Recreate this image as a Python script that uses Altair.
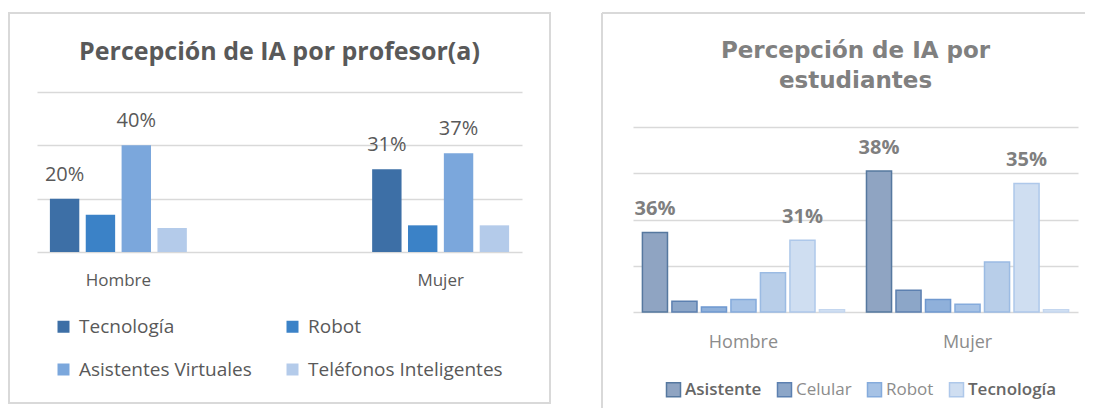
import altair as alt
import pandas as pd

generos = ["Hombre", "Mujer"]

# ---- Panel 1: profesor(a) ----
series_prof = ["Tecnología", "Robot", "Asistentes Virtuales", "Teléfonos Inteligentes"]
prof_hombre = [20, 14, 40, 9]
prof_mujer = [31, 10, 37, 10]
prof_etq_hombre = ["20%", "", "40%", ""]
prof_etq_mujer = ["31%", "", "37%", ""]
prof_colores = ["#3d6fa6", "#3b82c7", "#7ba7dc", "#b4cbea"]
prof_grid = [0, 20, 40, 60]

# ---- Panel 2: estudiantes ----
series_est = ["Asistente", "Celular", "Serie 3", "Robot", "Serie 5", "Tecnología", "Serie 7"]
est_hombre = [17.2, 2.3, 1.1, 2.7, 8.5, 15.5, 0.5]
est_mujer = [30.5, 4.7, 2.7, 1.7, 10.8, 27.8, 0.5]
est_etq_hombre = ["36%", "", "", "", "", "31%", ""]
est_etq_mujer = ["38%", "", "", "", "", "35%", ""]
est_relleno = ["#8fa4c2", "#8ca6c8", "#8fb0da", "#a6c2e5", "#b8cee9", "#cfdef1", "#dde8f5"]
est_borde = ["#56789f", "#5c80b0", "#6f98cf", "#85abdc", "#9bbbe3", "#aec8ea", "#c3d6ef"]
est_leyenda = ["Asistente", "Celular", "Robot", "Tecnología"]
est_grid = [0, 10, 20, 30, 40]

rows = []
for g, vals, etqs in [("Hombre", prof_hombre, prof_etq_hombre), ("Mujer", prof_mujer, prof_etq_mujer)]:
    for s, v, e in zip(series_prof, vals, etqs):
        rows.append({"genero": g, "serie": s, "valor": v, "etiqueta": e})
df_prof = pd.DataFrame(rows)

rows = []
for g, vals, etqs in [("Hombre", est_hombre, est_etq_hombre), ("Mujer", est_mujer, est_etq_mujer)]:
    for s, v, e in zip(series_est, vals, etqs):
        rows.append({"genero": g, "serie": s, "valor": v, "etiqueta": e})
df_est = pd.DataFrame(rows)

marco_df = pd.DataFrame({"marco": [1]})
GRID = "#d9d9d9"

# ---------- left chart ----------
x1 = alt.X("genero:N", sort=generos,
           scale=alt.Scale(paddingInner=0.575, paddingOuter=0.04),
           axis=alt.Axis(title=None, labelAngle=0, ticks=False, tickSize=0, domain=False,
                         labelPadding=20, labelFontSize=17, labelFont="Open Sans",
                         labelColor="#595959", labelBaseline="top"))
xo1 = alt.XOffset("serie:N", sort=series_prof, scale=alt.Scale(paddingInner=0.18, paddingOuter=0))
y1 = alt.Y("valor:Q", scale=alt.Scale(domain=[0, 60]),
           axis=alt.Axis(values=prof_grid, grid=True, labels=False, ticks=False, domain=False,
                         title=None, gridColor=GRID, gridWidth=1.5))

marco1 = alt.Chart(marco_df).mark_rect(fillOpacity=0, stroke=GRID, strokeWidth=2).encode(
    x=alt.value(-28), x2=alt.value(513), y=alt.value(-79), y2=alt.value(311))

barras1 = alt.Chart(df_prof).mark_bar().encode(
    x=x1, xOffset=xo1, y=y1,
    color=alt.Color("serie:N", sort=series_prof,
                    scale=alt.Scale(domain=series_prof, range=prof_colores),
                    legend=alt.Legend(orient="none", legendX=17, legendY=225, columns=2,
                                      direction="horizontal", title=None, symbolType="square",
                                      symbolSize=144, labelFontSize=19, labelFont="Open Sans",
                                      labelColor="#595959", labelOffset=6, columnPadding=31,
                                      rowPadding=23, symbolStrokeWidth=0, labelLimit=400)))

texto1 = alt.Chart(df_prof).mark_text(dy=-24, fontSize=20, font="Open Sans", color="#595959",
                                       baseline="middle").encode(
    x=x1, xOffset=xo1, y=y1, text="etiqueta:N")

izq = alt.layer(marco1, barras1, texto1).properties(
    width=485, height=160,
    title=alt.TitleParams("Percepción de IA por profesor(a)", font="Open Sans", fontSize=25,
                          fontWeight="bold", color="#595959", anchor="middle", offset=-73,
                          baseline="alphabetic"))

# ---------- right chart ----------
x2 = alt.X("genero:N", sort=generos,
           scale=alt.Scale(paddingInner=0.098, paddingOuter=0.042),
           axis=alt.Axis(title=None, labelAngle=0, ticks=False, tickSize=0, domain=False,
                         labelPadding=21, labelFontSize=18, labelFont="Open Sans",
                         labelColor="#8c8c8c", labelBaseline="top"))
xo2 = alt.XOffset("serie:N", sort=series_est, scale=alt.Scale(paddingInner=0.15, paddingOuter=0))
y2 = alt.Y("valor:Q", scale=alt.Scale(domain=[0, 47.57]),
           axis=alt.Axis(values=est_grid, grid=True, labels=False, ticks=False, domain=False,
                         title=None, gridColor=GRID, gridWidth=1.5))

leg2 = alt.Legend(orient="none", legendX=32, legendY=289, columns=4, direction="horizontal",
                  title=None, values=est_leyenda, symbolType="square", symbolSize=196,
                  symbolStrokeWidth=1.5, labelFontSize=17, labelFont="Open Sans",
                  labelColor=alt.ExprRef(expr="datum.label == 'Asistente' || datum.label == 'Tecnología' ? '#666666' : '#8c8c8c'"),
                  labelFontWeight=alt.ExprRef(expr="datum.label == 'Asistente' || datum.label == 'Tecnología' ? 600 : 400"),
                  labelOffset=3, columnPadding=12, labelLimit=300)

borde_sup = alt.Chart(marco_df).mark_rule(stroke=GRID, strokeWidth=2).encode(
    x=alt.value(-31), x2=alt.value(452), y=alt.value(-79))
borde_izq = alt.Chart(marco_df).mark_rule(stroke=GRID, strokeWidth=2).encode(
    x=alt.value(-31), y=alt.value(-79), y2=alt.value(316))

barras2 = alt.Chart(df_est).mark_bar(strokeWidth=1.5).encode(
    x=x2, xOffset=xo2, y=y2,
    fill=alt.Fill("serie:N", sort=series_est,
                  scale=alt.Scale(domain=series_est, range=est_relleno), legend=leg2),
    stroke=alt.Stroke("serie:N", sort=series_est,
                      scale=alt.Scale(domain=series_est, range=est_borde), legend=leg2))

texto2 = alt.Chart(df_est).mark_text(dy=-23, fontSize=20, font="Open Sans", fontWeight="bold",
                                     color="#7f7f7f", baseline="middle").encode(
    x=x2, xOffset=xo2, y=y2, text="etiqueta:N")

der = alt.layer(borde_sup, borde_izq, barras2, texto2).properties(
    width=445, height=220,
    title=alt.TitleParams(["Percepción de  IA por", "estudiantes"], font="DejaVu Sans",
                          fontSize=23, fontWeight="bold", color="#808080", lineHeight=30,
                          anchor="middle", offset=-99, baseline="alphabetic"))

chart = alt.hconcat(izq, der, spacing=50).resolve_scale(
    x="independent", y="independent", color="independent", fill="independent",
    stroke="independent", xOffset="independent"
).configure(padding={"left": 0, "top": 4, "right": 0, "bottom": 0}).configure_view(stroke=None)

chart.save("out.html", embed_options={"renderer": "svg", "actions": False})
